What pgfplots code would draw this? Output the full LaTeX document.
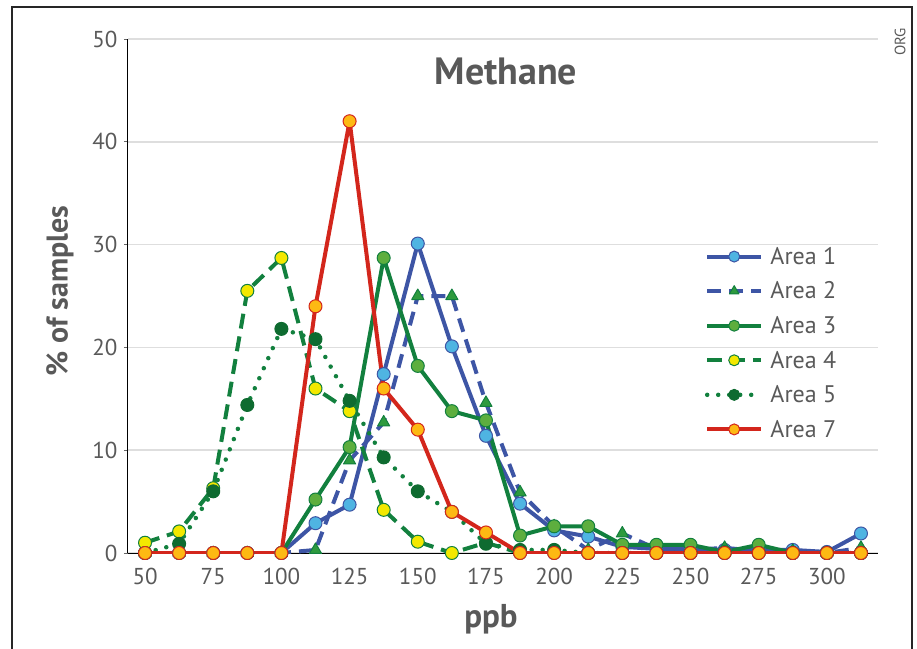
\documentclass[border=0pt]{standalone}
\usepackage{fontspec}
\setmainfont{PT Sans}
\usepackage{pgfplots}
\pgfplotsset{compat=1.18}
\definecolor{txt}{HTML}{595959}
\definecolor{bl}{HTML}{3D55A5}
\definecolor{lbl}{HTML}{4FB4E2}
\definecolor{gr}{HTML}{12803E}
\definecolor{lgr}{HTML}{5DAE3E}
\definecolor{tri}{HTML}{2E9A3E}
\definecolor{yel}{HTML}{F3E800}
\definecolor{dgr}{HTML}{0E6B30}
\definecolor{rd}{HTML}{D3261C}
\definecolor{org}{HTML}{FDB913}
\begin{document}
\begin{tikzpicture}
\useasboundingbox (-128pt,-95pt) rectangle (789pt,553pt);
\draw[line width=2pt, black!85] (-116pt,-96pt) -- (-116pt,546pt) -- (784pt,546pt) -- (784pt,-96pt);
\node[rotate=90, text=txt, font=\fontsize{15}{18}\selectfont] at (772pt,511pt) {ORG};
\begin{axis}[
  at={(0pt,0pt)}, anchor=south west,
  width=750pt, height=514pt, scale only axis,
  xmin=43.75, xmax=318.75, ymin=0, ymax=50,
  xtick={50,75,...,300}, ytick={0,10,...,50},
  axis x line*=bottom, axis y line*=left,
  axis line style={black, line width=1pt},
  xtick style={draw=none},
  ytick style={black!60, line width=0.8pt},
  tick align=outside, major tick length=4pt,
  ymajorgrids, grid style={black!13, line width=1.5pt},
  /pgf/number format/assume math mode=true,
  tick label style={font=\fontsize{23}{27}\selectfont, text=txt},
  xticklabel style={yshift=-8pt},
  yticklabel style={xshift=-3pt},
  xlabel={\textbf{ppb}}, ylabel={\textbf{\% of samples}},
  every axis x label/.style={at={(rel axis cs:0.484,0)}, anchor=center, yshift=-66pt, font=\fontsize{33}{38}\selectfont, text=txt},
  every axis y label/.style={at={(rel axis cs:0,0.51)}, anchor=center, xshift=-68pt, rotate=90, font=\fontsize{30}{34}\selectfont, text=txt},
  legend style={draw=none, fill=none, at={(rel axis cs:0.765,0.603)}, anchor=north west, font=\fontsize{24}{28}\selectfont, text=txt, row sep=12pt},
  legend cell align=left,
  legend image code/.code={\draw[mark repeat=2,mark phase=2, mark size=5.5pt] plot coordinates {(0pt,0pt) (27pt,0pt) (54pt,0pt)}; \path (59pt,0pt);},
  every axis plot/.append style={line width=4pt, line join=round},
]
\addplot[bl, mark=*, mark size=6.5pt, mark options={solid, fill=lbl, draw=bl, line width=1pt}] coordinates {
(50,0)(62.5,0)(75,0)(87.5,0)(100,0)(112.5,2.9)(125,4.7)(137.5,17.4)(150,30.1)(162.5,20.1)(175,11.4)(187.5,4.8)(200,2.2)(212.5,1.6)(225,0.6)(237.5,0.4)(250,0.4)(262.5,0.3)(275,0.3)(287.5,0.3)(300,0.1)(312.5,1.9)};
\addlegendentry{Area 1}
\addplot[bl, dash pattern=on 14pt off 8pt, mark=triangle*, mark size=7pt, mark options={solid, fill=tri, draw=gr, line width=1pt}] coordinates {
(50,0)(62.5,0)(75,0)(87.5,0)(100,0)(112.5,0.3)(125,9.0)(137.5,12.7)(150,25)(162.5,25)(175,14.6)(187.5,5.9)(200,2.6)(212.5,0.3)(225,1.9)(237.5,0.4)(250,0.3)(262.5,0.5)(275,0.2)(287.5,0.2)(300,0)(312.5,0.5)};
\addlegendentry{Area 2}
\addplot[gr, mark=*, mark size=6.5pt, mark options={solid, fill=lgr, draw=gr, line width=1pt}] coordinates {
(50,0)(62.5,0)(75,0)(87.5,0)(100,0)(112.5,5.2)(125,10.3)(137.5,28.7)(150,18.2)(162.5,13.8)(175,12.9)(187.5,1.7)(200,2.6)(212.5,2.6)(225,0.8)(237.5,0.8)(250,0.8)(262.5,0.1)(275,0.8)(287.5,0)(300,0)(312.5,0)};
\addlegendentry{Area 3}
\addplot[gr, dash pattern=on 15pt off 8pt, mark=*, mark size=6.5pt, mark options={solid, fill=yel, draw=gr, line width=1pt}] coordinates {
(50,1.0)(62.5,2.1)(75,6.3)(87.5,25.5)(100,28.7)(112.5,16.0)(125,13.8)(137.5,4.2)(150,1.1)(162.5,0)(175,1.0)(187.5,0)(200,0)(212.5,0)(225,0)(237.5,0)(250,0)(262.5,0)(275,0)(287.5,0)(300,0)(312.5,0)};
\addlegendentry{Area 4}
\addplot[gr, line cap=round, dash pattern=on 0pt off 11pt, line width=4.5pt, mark=*, mark size=6.5pt, mark options={solid, fill=dgr, draw=dgr, line width=1pt}] coordinates {
(50,0)(62.5,0.9)(75,6.0)(87.5,14.4)(100,21.8)(112.5,20.8)(125,14.8)(137.5,9.3)(150,6.0)(162.5,4.0)(175,0.9)(187.5,0.3)(200,0.3)(212.5,0)(225,0)(237.5,0)(250,0)(262.5,0)(275,0)(287.5,0)(300,0)(312.5,0)};
\addlegendentry{Area 5}
\addplot[rd, mark=*, mark size=6.5pt, mark options={solid, fill=org, draw=rd, line width=1pt}] coordinates {
(50,0)(62.5,0)(75,0)(87.5,0)(100,0)(112.5,24)(125,42)(137.5,16)(150,12)(162.5,4.0)(175,2.0)(187.5,0)(200,0)(212.5,0)(225,0)(237.5,0)(250,0)(262.5,0)(275,0)(287.5,0)(300,0)(312.5,0)};
\addlegendentry{Area 7}
\node[font=\fontsize{38}{44}\selectfont\bfseries, text=txt] at (rel axis cs:0.504,0.936) {Methane};
\end{axis}
\end{tikzpicture}
\end{document}
